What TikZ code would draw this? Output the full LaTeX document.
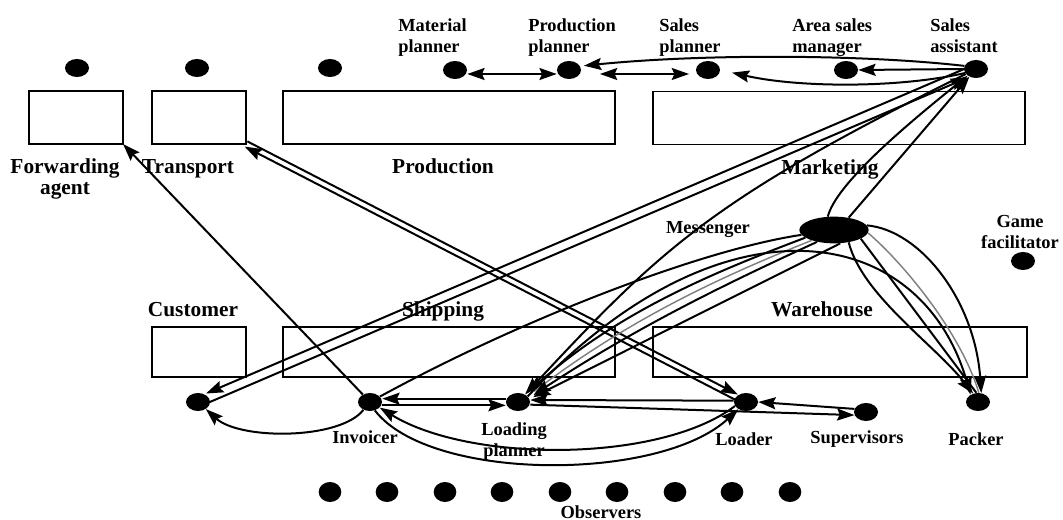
\documentclass[tikz,border=0pt]{standalone}
\usepackage{fontspec}
\setmainfont{Liberation Serif}
\usetikzlibrary{shapes.geometric,arrows.meta,calc}
\begin{document}
\begin{tikzpicture}[x=0.75pt,y=-0.75pt,
  dot/.style={ellipse,fill=black,inner sep=0pt,minimum width=18pt,minimum height=13.5pt},
  obs/.style={ellipse,fill=black,inner sep=0pt,minimum width=17pt,minimum height=15pt},
  box/.style={draw,line width=1.4pt,inner sep=0pt,outer sep=0pt},
  big/.style={font=\fontsize{16}{15.75}\selectfont\bfseries,inner sep=0pt,anchor=base},
  small/.style={font=\fontsize{13.8}{15.75}\selectfont\bfseries,inner sep=0pt,anchor=base},
  con/.style={line width=1.5pt},
  arr/.style={con,-{Stealth[length=13pt,width=9pt,inset=2pt]}},
  darr/.style={con,{Stealth[length=13pt,width=9pt,inset=2pt]}-{Stealth[length=13pt,width=9pt,inset=2pt]}},
  grayline/.style={line width=1.1pt,gray}
]
\useasboundingbox (0,0) rectangle (1063,520);
% boxes
\node[box,minimum width=70.5pt,minimum height=39.75pt] (fa) at (76,117.5) {};
\node[box,minimum width=70.5pt,minimum height=39.75pt] (tr) at (199,117.5) {};
\node[box,minimum width=249pt,minimum height=39.75pt] (pr) at (449,117.5) {};
\node[box,minimum width=279pt,minimum height=39.75pt] (mk) at (839,118) {};
\node[box,minimum width=70.5pt,minimum height=37.5pt] (cu) at (199,352) {};
\node[box,minimum width=249pt,minimum height=37.5pt] (sh) at (449,352) {};
\node[box,minimum width=280.5pt,minimum height=37.5pt] (wh) at (840,352) {};
% labels
\node[big,align=center] (lfa) at (65,195) {Forwarding\\agent};
\node[big] (ltr) at (188,174) {Transport};
\node[big] (lpr) at (443,174) {Production};
\node[big] (lmk) at (830,175) {Marketing};
\node[big] (lcu) at (193,316) {Customer};
\node[big] (lsh) at (443,316) {Shipping};
\node[big] (lwh) at (822,316) {Warehouse};
\node[small,anchor=base west,align=left] (lmp) at (398,53) {Material\\planner};
\node[small,anchor=base west,align=left] (lpp) at (528,53) {Production\\planner};
\node[small,anchor=base west,align=left] (lsp) at (659,53) {Sales\\planner};
\node[small,anchor=base west,align=left] (lasm) at (792,53) {Area sales\\manager};
\node[small,anchor=base west,align=left] (lsa) at (930,53) {Sales\\assistant};
\node[small] (lmes) at (708,234) {Messenger};
\node[small,align=center] (lgf) at (1020,248) {Game\\facilitator};
\node[small] (linv) at (365,443) {Invoicer};
\node[small,align=center] (llp) at (514,456) {Loading\\planner};
\node[small] (lldr) at (744,445) {Loader};
\node[small] (lsup) at (857,443) {Supervisors};
\node[small] (lpk) at (976,445) {Packer};
\node[small] (lobs) at (601,518) {Observers};
% dots
\node[dot] (fad) at (77,68) {};
\node[dot] (trd) at (197,68) {};
\node[dot] (prd) at (330,68) {};
\node[dot] (mp) at (455,70) {};
\node[dot] (pp) at (569,70) {};
\node[dot] (sp) at (708,70) {};
\node[dot] (asm) at (846,70) {};
\node[dot] (sa) at (976,69) {};
\node[dot] (gfd) at (1023,261) {};
\node[dot] (cust) at (198,402) {};
\node[dot] (inv) at (370,402) {};
\node[dot] (lp) at (518,402) {};
\node[dot] (ldr) at (746,402) {};
\node[dot] (sup) at (866,412) {};
\node[dot] (pack) at (978,402) {};
\node[ellipse,fill=black,inner sep=0pt,minimum width=52pt,minimum height=20pt] (mes) at (834,230) {};
\foreach \x [count=\i] in {330,387,445,502,560,617,675,732,790}
  \node[obs] (o\i) at (\x,492) {};
% top connectors
\draw[darr] ([yshift=-3pt]mp.east) -- ([yshift=-3pt]pp.west);
\draw[darr,shorten <=14pt,shorten >=5pt] ([yshift=-3pt]pp.east) -- ([yshift=-3pt]sp.west);
\draw[arr,shorten >=2pt] (sa.165) .. controls (860,54) and (700,54) .. ([yshift=3pt]pp.east);
\draw[arr] (sa.west) -- (asm.east);
\draw[arr,shorten >=9pt] (sa.200) .. controls (900,88) and (800,88) .. (sp.east);
% sales assistant <-> customer
\draw[arr,shorten <=6pt,shorten >=8pt] ($(sa.center)!3.5pt!-90:(cust.center)$) -- ($(cust.center)!3.5pt!90:(sa.center)$);
\draw[arr,shorten <=6pt,shorten >=8pt] ($(cust.center)!3.5pt!-90:(sa.center)$) -- ($(sa.center)!3.5pt!90:(cust.center)$);
% sales assistant -> loading planner
\draw[arr] (sa) .. controls (710,200) and (660,250) .. (lp);
% messenger -> sales assistant
\draw[arr] (mes.115) .. controls (836,185) and (900,130) .. (sa);
\draw[arr] (mes.40) -- (sa);
% transport <-> loader
\draw[arr,shorten >=8pt] ($(tr.south east)!2.2pt!90:(ldr.center)$) -- ($(ldr.center)!2.2pt!-90:(tr.south east)$);
\draw[arr,shorten <=8pt] ($(ldr.center)!2.2pt!90:(tr.south east)$) -- ($(tr.south east)!2.2pt!-90:(ldr.center)$);
% invoicer -> forwarding agent
\draw[arr] (inv) -- (fa.south east);
% loading planner <-> invoicer
\draw[arr] ([yshift=2.5pt]lp.west) -- ([yshift=2.5pt]inv.east);
\draw[arr] ([yshift=-2.5pt]inv.east) -- ([yshift=-2.5pt]lp.west);
% loader / loading planner / supervisors
\draw[arr] ([yshift=1pt]ldr.west) -- ([yshift=1.5pt]lp.east);
\draw[arr] ([yshift=-2pt]lp.east) -- (sup.195);
\draw[arr] (sup.165) -- (ldr.east);
% loader <-> invoicer
\draw[arr] (ldr.200) .. controls (660,463) and (470,463) .. (inv.-30);
\draw[arr] (inv.-60) .. controls (430,482) and (660,482) .. (ldr);
% invoicer -> customer
\draw[arr] (inv.230) .. controls (340,440) and (240,440) .. (cust);
% invoicer - messenger
\draw[con] (inv) .. controls (520,320) and (700,250) .. (mes);
% messenger -> loading planner
\draw[arr,shorten >=3pt] (mes.195) .. controls (720,270) and (620,310) .. (lp.45);
\draw[grayline,shorten >=6pt] (mes.205) .. controls (725,275) and (630,318) .. (lp.30);
\draw[arr,shorten >=4pt] (mes.215) .. controls (730,282) and (640,325) .. (lp.20);
\draw[arr,shorten >=3pt] (mes.-65) -- (lp.15);
% loading planner -> packer
\draw[arr] (lp.30) .. controls (720,190) and (920,220) .. (pack.135);
% messenger -> packer
\draw[arr] (mes.8) .. controls (920,230) and (975,300) .. (pack.70);
\draw[grayline] (mes.-5) .. controls (900,260) and (960,330) .. (pack.85);
\draw[con] (mes.-18) -- (pack.100);
\draw[arr] (mes.-40) .. controls (862,295) and (935,345) .. (pack.120);
\end{tikzpicture}
\end{document}
